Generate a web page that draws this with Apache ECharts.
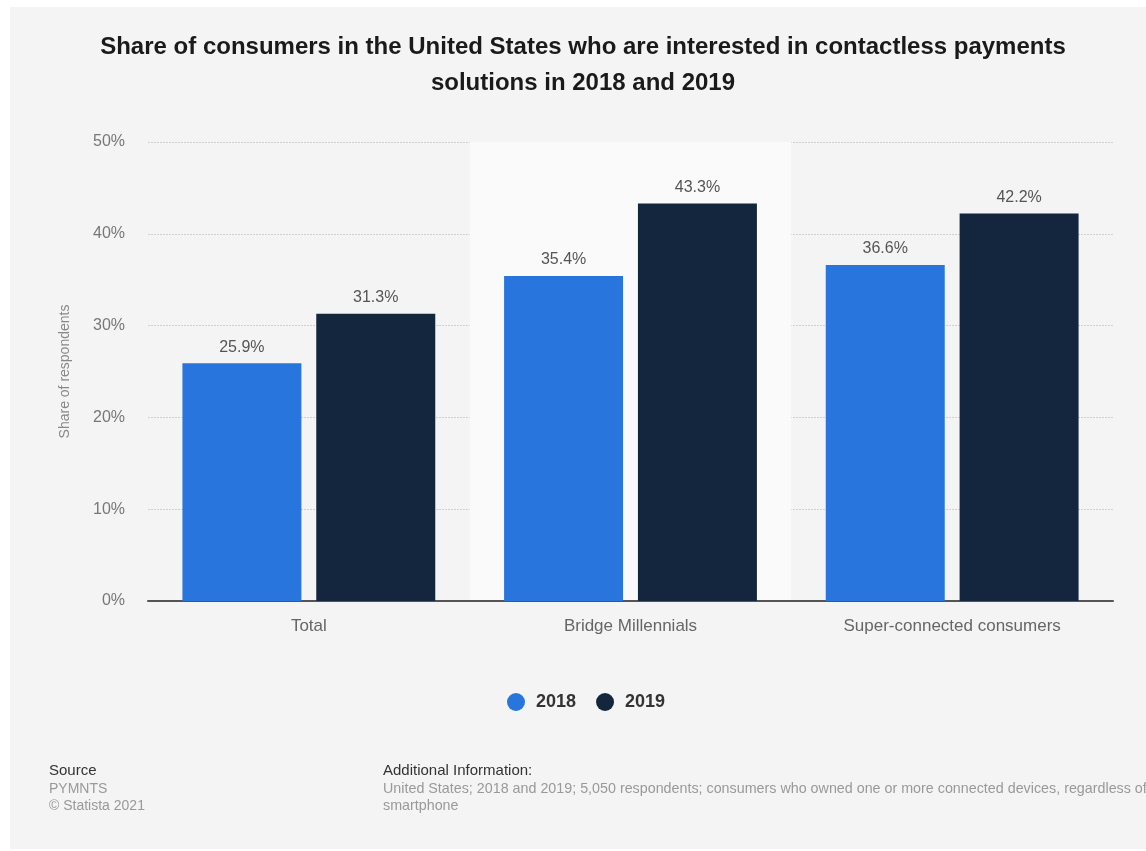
<!DOCTYPE html>
<html>
<head>
<meta charset="utf-8">
<script src="https://cdn.jsdelivr.net/npm/echarts@6/dist/echarts.min.js"></script>
<style>
html,body{margin:0;padding:0;background:#fff;}
#chart{width:1146px;height:851px;}
</style>
</head>
<body>
<div id="chart"></div>
<script>
const categories = ['Total', 'Bridge Millennials', 'Super-connected consumers'];
const values2018 = [25.9, 35.4, 36.6];
const values2019 = [31.3, 43.3, 42.2];
const seriesNames = ['2018', '2019'];
const titleLines = ['Share of consumers in the United States who are interested in contactless payments', 'solutions in 2018 and 2019'];
const yAxisName = 'Share of respondents';
const sourceLines = ['PYMNTS', '\u00a9 Statista 2021'];
const infoLines = ['United States; 2018 and 2019; 5,050 respondents; consumers who owned one or more connected devices, regardless of', 'smartphone'];

const font = '"Liberation Sans", Arial, Helvetica, sans-serif';
const chart = echarts.init(document.getElementById('chart'), null, {renderer: 'canvas'});

const labelCfg = {
  show: true, position: 'top', distance: 8,
  color: '#555', fontSize: 16, fontFamily: font,
  formatter: p => p.value.toFixed(1) + '%'
};

chart.setOption({
  backgroundColor: '#ffffff',
  animation: false,
  textStyle: {fontFamily: font},
  graphic: [
    {type: 'rect', z: -10, silent: true, shape: {x: 10, y: 7, width: 1136, height: 842}, style: {fill: '#f4f4f4'}},
    {type: 'text', x: 583, y: 47, style: {text: titleLines[0], font: 'bold 24px ' + font, fill: '#1a1a1a', textAlign: 'center', textVerticalAlign: 'middle'}},
    {type: 'text', x: 583, y: 83, style: {text: titleLines[1], font: 'bold 24px ' + font, fill: '#1a1a1a', textAlign: 'center', textVerticalAlign: 'middle'}},
    {type: 'text', x: 49, y: 771, style: {text: 'Source', font: '15px ' + font, fill: '#333', textVerticalAlign: 'middle'}},
    {type: 'text', x: 49, y: 789, style: {text: sourceLines[0], font: '14px ' + font, fill: '#999', textVerticalAlign: 'middle'}},
    {type: 'text', x: 49, y: 806, style: {text: sourceLines[1], font: '14px ' + font, fill: '#999', textVerticalAlign: 'middle'}},
    {type: 'text', x: 383, y: 771, style: {text: 'Additional Information:', font: '15px ' + font, fill: '#333', textVerticalAlign: 'middle'}},
    {type: 'text', x: 383, y: 789, style: {text: infoLines[0], font: '14.3px ' + font, fill: '#999', textVerticalAlign: 'middle'}},
    {type: 'text', x: 383, y: 806, style: {text: infoLines[1], font: '14.3px ' + font, fill: '#999', textVerticalAlign: 'middle'}}
  ],
  legend: {
    left: 502, top: 688,
    itemWidth: 18, itemHeight: 18, itemGap: 20,
    icon: 'circle',
    textStyle: {fontSize: 18, fontWeight: 'bold', color: '#333', fontFamily: font, padding: [0, 0, 0, 6]},
    data: seriesNames
  },
  grid: {left: 148, right: 33, top: 142, bottom: 250, containLabel: false},
  xAxis: {
    type: 'category',
    data: categories,
    axisLine: {show: true, lineStyle: {color: '#555', width: 2}},
    axisTick: {show: false},
    axisLabel: {color: '#666', fontSize: 17, margin: 17, fontFamily: font},
    splitArea: {show: true, areaStyle: {color: ['rgba(0,0,0,0)', '#fafafa']}}
  },
  yAxis: {
    type: 'value',
    min: 0, max: 50, interval: 10,
    name: yAxisName,
    nameLocation: 'middle',
    nameGap: 76,
    nameRotate: 90,
    nameTextStyle: {color: '#888', fontSize: 14, fontFamily: font},
    axisLine: {show: false},
    axisTick: {show: false},
    axisLabel: {color: '#777', fontSize: 16, margin: 23, formatter: '{value}%', fontFamily: font},
    splitLine: {show: true, lineStyle: {color: '#d0d0d0', type: [2, 1], width: 1}}
  },
  series: [
    {name: seriesNames[0], type: 'bar', data: values2018, barGap: '12.5%', barCategoryGap: '21.4%',
     itemStyle: {color: '#2876dd'}, label: labelCfg},
    {name: seriesNames[1], type: 'bar', data: values2019, barGap: '12.5%', barCategoryGap: '21.4%',
     itemStyle: {color: '#13263d'}, label: labelCfg}
  ]
});
</script>
</body>
</html>
